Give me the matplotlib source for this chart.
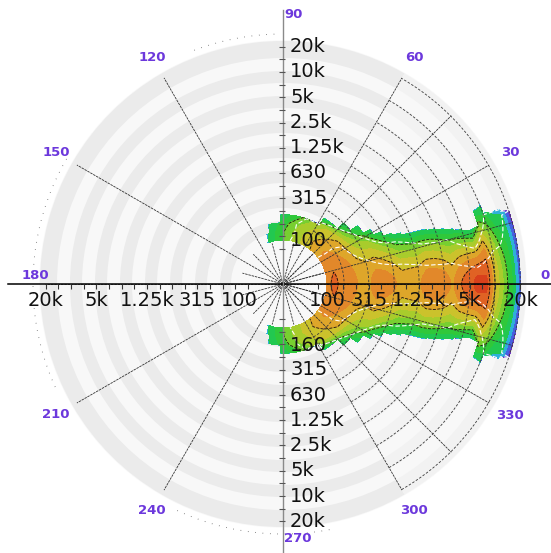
import numpy as np
import matplotlib.pyplot as plt
from matplotlib.colors import ListedColormap
from matplotlib.patches import Wedge, Circle

plt.rcParams['font.family'] = ['DejaVu Sans']

# 1/3 octave bands of the measurement
freqs = [100, 125, 160, 200, 250, 315, 400, 500, 630, 800, 1000, 1250,
         1600, 2000, 2500, 3150, 4000, 5000, 6300, 8000, 10000, 12500, 16000, 20000]
# level on axis (dB, 0 = max) and half angle where the plot fades out
on_axis_db = [-6.5, -5.5, -7, -8, -9.5, -9.5, -7.5, -7.5, -8.5, -10.5, -10, -9.5,
              -7, -7, -7.5, -9.5, -6, -4, -2, -2.5, -12, -18, -24, -32]
edge_deg = [110, 108, 104, 92, 58, 45, 38, 32, 28, 25, 23.5, 22,
            21.5, 21, 20, 19, 18, 17, 16, 21, 22, 19, 19, 18]

top_freqs = [100, 315, 630, 1250, 2500, 5000, 10000, 20000]
top_labels = ['100', '315', '630', '1.25k', '2.5k', '5k', '10k', '20k']
bottom_freqs = [160, 315, 630, 1250, 2500, 5000, 10000, 20000]
bottom_labels = ['160', '315', '630', '1.25k', '2.5k', '5k', '10k', '20k']
side_freqs = [100, 315, 1250, 5000, 20000]
side_labels = ['100', '315', '1.25k', '5k', '20k']
grid_freqs = [160, 315, 630, 1250, 2500, 5000, 10000, 20000]
angle_labels = list(range(0, 360, 30))

band_levels = np.arange(-36, 1, 3)
band_colors = ['#7436cc', '#4660e0', '#2fb0d8', '#22c850', '#30c83a', '#78cf30',
               '#a8cc2c', '#cbc22c', '#dea62a', '#e2882a', '#e06224', '#d8401c']

PX_OCT = 25.3   # pixels per octave
F0 = 30.0       # frequency at the centre


def rad(f):
    return PX_OCT * np.log2(np.asarray(f, dtype=float) / F0)


fig = plt.figure(figsize=(5.51, 5.53), dpi=100)
ax = fig.add_axes([0, 0, 1, 1])
ax.set_xlim(-283, 551 - 283)
ax.set_ylim(-(553 - 284), 284)
ax.axis('off')

# background disk with grey rings
R_OUT = 243
ax.add_patch(Circle((0, 0), R_OUT, color='#f8f8f8', zorder=0))
rings = [(52, 63), (76, 88), (101, 113), (126, 138), (151, 163), (176, 188), (201, 213), (226, 243)]
for r_in, r_out in rings:
    ax.add_patch(Wedge((0, 0), r_out, 60, 300, width=r_out - r_in, color='#ebebeb', lw=0, zorder=0))
    ax.add_patch(Wedge((0, 0), r_out, -60, 60, width=r_out - r_in, color='#f2f2f2', lw=0, zorder=0))
# specks around the rim
for a1, a2 in [(150, 205), (245, 282), (92, 112)]:
    t = np.deg2rad(np.linspace(a1, a2, 60))
    ax.plot(250 * np.cos(t), 250 * np.sin(t), color='#444444', lw=0.7, ls=(0, (0.6, 7)), zorder=0)

# directivity field
th = np.deg2rad(np.arange(-180, 180.01, 0.5))
TH, RR = np.meshgrid(th, rad(freqs))
L0 = np.array(on_axis_db, dtype=float)[:, None]
E = np.deg2rad(np.array(edge_deg))[:, None]
drop = np.maximum(L0 + 27.5, 3)
u = np.abs(TH) / E
Z = np.where(u <= 1, L0 - drop * u ** 1.8, -1000)
N = np.where(u <= 1, -drop * u ** 1.8, -1000)
X = RR * np.cos(TH)
Y = RR * np.sin(TH)

ax.contourf(X, Y, Z, levels=band_levels, cmap=ListedColormap(band_colors), zorder=1)
ax.contour(X, Y, Z, levels=[-21, -12, -6], colors='#111111', linewidths=0.6, zorder=2)
ax.contour(X, Y, N, levels=[-12, -3], colors='white', linewidths=0.8,
           linestyles=[(0, (4, 2))], zorder=2)

# grid
spoke_kw = dict(color='#333333', lw=0.6, ls=(0, (3, 1)), zorder=3)
for a in range(0, 360, 30):
    t = np.deg2rad(a)
    ax.plot([0, 238 * np.cos(t)], [0, 238 * np.sin(t)], **spoke_kw)
for a in [15, 45, -15, -45]:
    t = np.deg2rad(a)
    ax.plot([0, 238 * np.cos(t)], [0, 238 * np.sin(t)], **spoke_kw)
for a in range(15, 360, 30):
    t = np.deg2rad(a)
    ax.plot([0, 42 * np.cos(t)], [0, 42 * np.sin(t)], **spoke_kw)
arc_t = np.deg2rad(np.linspace(-60, 60, 200))
for r in rad(grid_freqs):
    ax.plot(r * np.cos(arc_t), r * np.sin(arc_t), color='#3c3c3c', lw=0.6, ls=(0, (3, 2)), zorder=3)

# axes through the centre
ax.plot([-275, 268], [0, 0], color='black', lw=1.1, zorder=4)
ax.plot([0, 0], [-269, 274], color='#8a8a8a', lw=1.0, zorder=4)
tick_r = rad(20000 / 2 ** (np.arange(0, 17) / 2))
ax.hlines(np.concatenate([tick_r, -tick_r]), -4, 2, color='#555555', lw=0.8, zorder=4)
ax.vlines(np.concatenate([tick_r, -tick_r]), -5, 0, color='#333333', lw=0.8, zorder=4)

txt = dict(fontsize=14, color='#111111', zorder=5)
for f, s in zip(top_freqs, top_labels):
    ax.text(7, rad(f), s, ha='left', va='center', **txt)
for f, s in zip(bottom_freqs, bottom_labels):
    ax.text(7, -rad(f), s, ha='left', va='center', **txt)
for f, s in zip(side_freqs, side_labels):
    ax.text(rad(f), -7, s, ha='center', va='top', **txt)
    ax.text(-rad(f), -7, s, ha='center', va='top', **txt)

lab = dict(fontsize=9.5, color='#6c38dc', fontweight='bold', zorder=5)
for a in angle_labels:
    t = np.deg2rad(a)
    if a == 0:
        ax.text(267, 2, str(a), ha='right', va='bottom', **lab)
    elif a == 180:
        ax.text(-248, 2, str(a), ha='center', va='bottom', **lab)
    elif a == 90:
        ax.text(1, 269, str(a), ha='left', va='center', **lab)
    elif a == 270:
        ax.text(1, -254, str(a), ha='left', va='center', **lab)
    else:
        ax.text(262 * np.cos(t), 262 * np.sin(t), str(a), ha='center', va='center', **lab)

fig.savefig('out.png', dpi=100)
